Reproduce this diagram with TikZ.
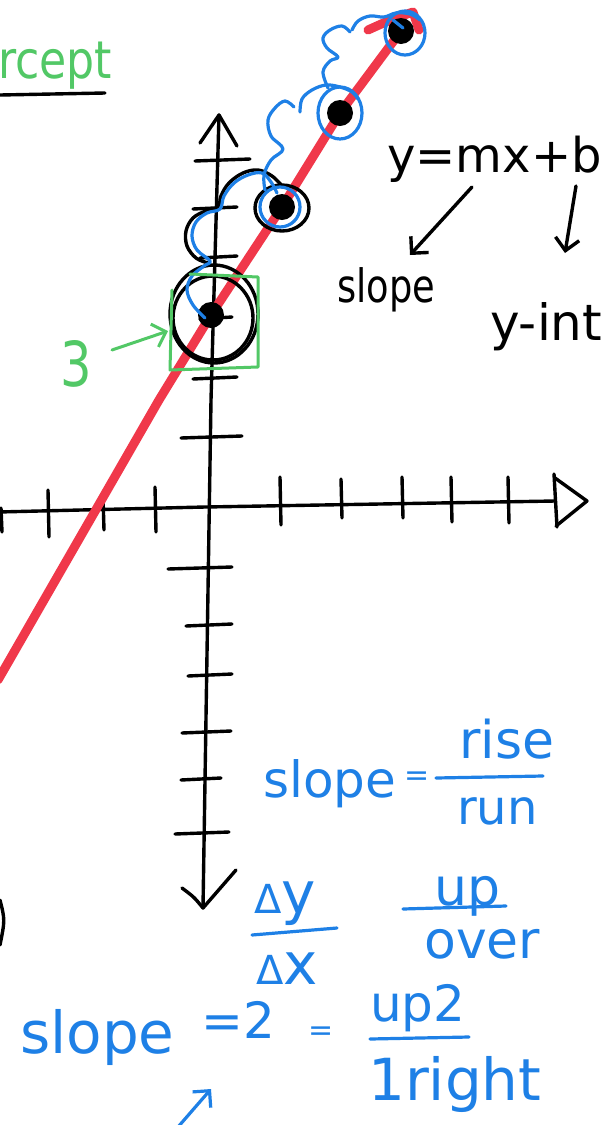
\documentclass[tikz,border=0pt]{standalone}
\usepackage{fontspec}
\setmainfont{DejaVu Sans}
\usetikzlibrary{arrows.meta}
\definecolor{inkred}{RGB}{240,56,74}
\definecolor{inkblue}{RGB}{30,128,230}
\definecolor{inkgreen}{RGB}{82,200,102}
\newcommand{\handsize}[1]{\fontsize{#1}{#1}\selectfont}
\tikzset{
  ink/.style={line width=3.4pt, line cap=round, line join=round},
  redpen/.style={draw=inkred, line width=9pt, line cap=round, line join=round},
  bluepen/.style={ink, line width=3.2pt, draw=inkblue},
  greenpen/.style={ink, line width=3pt, draw=inkgreen},
  barb/.style={-{Straight Barb[length=12pt,width=24pt]}},
  handtxt/.style={inner sep=0pt, anchor=base west},
  blacktxt/.style={handtxt},
  bluetxt/.style={handtxt, text=inkblue},
  greentxt/.style={handtxt, text=inkgreen},
  dot/.style={fill=black}
}

\begin{document}
\begin{tikzpicture}[x=1pt, y=-1pt]
\clip (0,0) rectangle (605,1125);
\fill[white] (0,0) rectangle (605,1125);

% axes
\coordinate (ytop) at (219,115);
\coordinate (ybot) at (203,908);
\coordinate (xleft) at (-2,512);
\coordinate (xright) at (587,501);
\draw[ink] (ytop) -- (211,400) -- (ybot);
\draw[ink] (200,143) -- (ytop) -- (237,146);
\draw[ink] (182,888) .. controls (194,897) .. (ybot) -- (236,870);
\draw[ink] (xleft) -- (205,507) -- (555,501);
\draw[ink] (554,474) -- (557,527);
\draw[ink] (555,478) -- (xright) -- (556,526);
\foreach \yy/\xa/\xb in {160/195/250, 208/193/237, 257/200/237, 318/200/232,
    378/193/237, 437/181/242, 568/168/232, 625/186/232, 675/188/232,
    732/182/231, 779/181/221, 833/175/229}
  \draw[ink] (\xa,\yy+1) -- (\xb,\yy-1);
\foreach \xx/\ya/\yb in {1/508/532, 48/490/537, 103/497/530, 155/487/532,
    280/477/525, 341/479/518, 402/477/518, 451/477/522, 508/477/523}
  \draw[ink] (\xx,\ya) -- (\xx+1,\yb);
\draw[ink] (0,900) .. controls (5,920) .. (0,945);

% the line
\draw[redpen] (xleft |- 0,680) -- (159,400) -- (211,315) -- (282,207) -- (340,113) -- (401,31);
\draw[redpen] (368,30) .. controls (390,20) .. (413,12) -- (419,30);

% loops round the intercept
\draw[ink] (214,314) ellipse[x radius=44, y radius=49];
\draw[ink] (213,318) ellipse[x radius=40, y radius=42];
\draw[ink] (282,208) ellipse[x radius=27, y radius=23];
\draw[ink] plot[smooth, tension=0.6] coordinates {(208,263) (196,258) (187,246) (186,231)
    (193,218) (206,211) (218,209) (221,196) (229,183) (243,173) (258,170) (272,176) (283,187)};

\foreach \px/\py in {211/315, 282/207, 340/113, 401/31}
  \fill[dot] (\px,\py) circle[radius=13];

% steps up 2 over 1
\draw[bluepen] (280,207) circle[radius=20];
\draw[bluepen] (340,113) ellipse[x radius=22, y radius=26];
\draw[bluepen] (405,33) ellipse[x radius=20, y radius=22];
\draw[bluepen] plot[smooth, tension=0.6] coordinates {(205,318) (193,305) (187,290) (192,276)
    (204,266) (210,261) (197,250) (192,236) (196,222) (207,213) (220,209) (224,196)
    (234,183) (248,175) (262,173) (271,182) (277,193)};
\draw[bluepen] plot[smooth, tension=0.6] coordinates {(265,190) (264,175) (271,160) (283,149)
    (271,136) (268,120) (275,108) (285,101) (294,107)};
\draw[bluepen] plot[smooth, tension=0.6] coordinates {(300,112) (302,99) (312,90) (326,85)
    (340,87) (352,92) (358,99)};
\draw[bluepen] plot[smooth, tension=0.6] coordinates {(328,88) (323,72) (330,61) (338,57)
    (327,48) (323,38) (330,30) (342,26) (350,32)};
\draw[bluepen] plot[smooth, tension=0.6] coordinates {(352,30) (358,21) (370,16) (384,17)
    (396,13) (410,14) (420,20)};
\draw[bluepen] (393,20) -- (403,28);

% intercept box
\draw[greenpen] (172,290) -- (170,370) -- (258,367) -- (258,277) -- (190,274);
\node[greentxt, font=\handsize{62}, xscale=0.8] (three) at (60,386) {3};
\coordinate (threefrom) at (112,350);
\coordinate (threeto) at (168,331);
\draw[greenpen, barb] (threefrom) -- (threeto);

\node[greentxt, font=\handsize{52}, xscale=0.85] (rcept) at (-2,78) {rcept};
\draw[ink] (0,95) -- (105,93);

% equation
\node[blacktxt, font=\handsize{48}] (eqn) at (387,172) {y=mx+b};
\node[blacktxt, font=\handsize{46}, xscale=0.8] (slopeblk) at (337,302) {slope};
\node[blacktxt, font=\handsize{50}] (yint) at (490,340) {y-int};
\coordinate (mfoot) at (472,187);
\coordinate (slopetip) at (410,255);
\coordinate (bfoot) at (576,186);
\coordinate (yinttip) at (565,253);
\draw[ink, barb] (mfoot) -- (slopetip);
\draw[ink, barb] (bfoot) -- (yinttip);

% slope notes
\node[bluetxt, font=\handsize{50}] (slopeblue) at (263,797) {slope};
\node[bluetxt, font=\handsize{30}] (eqa) at (404,785) {=};
\node[bluetxt, font=\handsize{52}] (rise) at (459,758) {rise};
\node[bluetxt, font=\handsize{48}] (run) at (457,824) {run};
\draw[bluepen] (436,778) -- (543,776);

\node[bluetxt, font=\handsize{58}] (dy) at (254,913) {{\handsize{40}Δ}y};
\draw[bluepen] (252,935) -- (337,928);
\node[bluetxt, font=\handsize{58}] (dx) at (256,984) {{\handsize{40}Δ}x};

\node[bluetxt, font=\handsize{52}] (up) at (434,905) {up};
\draw[bluepen] (403,909) -- (506,906);
\node[bluetxt, font=\handsize{52}] (over) at (424,958) {over};

\node[bluetxt, font=\handsize{58}] (slopebot) at (20,1053) {slope};
\node[bluetxt, font=\handsize{50}] (eqtwo) at (201,1038) {=2};
\node[bluetxt, font=\handsize{30}] (eqb) at (308,1040) {=};
\node[bluetxt, font=\handsize{50}] (uptwo) at (370,1021) {up2};
\draw[bluepen] (370,1039) -- (469,1037);
\node[bluetxt, font=\handsize{58}] (oneright) at (368,1100) {1right};

\coordinate (arrtail) at (178,1127);
\coordinate (arrtip) at (211,1089);
\draw[bluepen, barb] (arrtail) -- (arrtip);
\end{tikzpicture}
\end{document}
